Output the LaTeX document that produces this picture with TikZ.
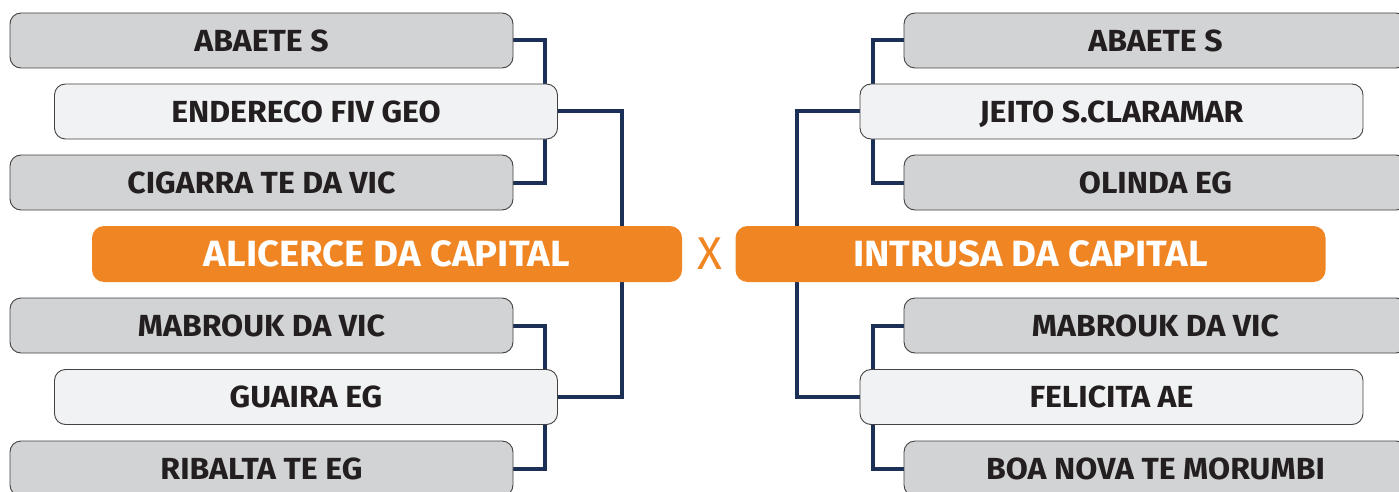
\documentclass[tikz,border=0pt]{standalone}
\usepackage{fontspec}
\setmainfont{Fira Sans}
\newfontfamily\teamfont[FakeStretch=1.05]{Fira Sans}
\usetikzlibrary{backgrounds}
\definecolor{boxgray}{HTML}{D1D3D4}
\definecolor{boxlight}{HTML}{F1F2F3}
\definecolor{orng}{HTML}{F08523}
\definecolor{navy}{HTML}{1C2F57}
\definecolor{txt}{HTML}{231F20}
\tikzset{
  team/.style={draw=txt!85, line width=0.9pt, rounded corners=11pt, minimum width=503pt, minimum height=55pt, inner sep=0pt, text=txt, text depth=0pt, font=\teamfont\fontsize{30.5}{30.5}\selectfont\bfseries},
  dark/.style={team, fill=boxgray},
  light/.style={team, fill=boxlight},
  final/.style={rounded corners=12pt, fill=orng, minimum width=590pt, minimum height=56pt, inner sep=0pt, text=white, text depth=0pt, font=\teamfont\fontsize{36.5}{36.5}\selectfont\bfseries},
  link/.style={draw=navy, line width=4pt}
}
\begin{document}
\begin{tikzpicture}[x=1pt,y=-1pt]
\useasboundingbox (0,0) rectangle (1399,492);
% left
\node[dark]  (a1) at (261.5,40.5) {ABAETE S};
\node[light] (a2) at (306,111.5) {ENDERECO FIV GEO};
\node[dark]  (a3) at (261.5,182.5) {CIGARRA TE DA VIC};
\node[final] (a4) at (387,254) {ALICERCE DA CAPITAL};
\node[dark]  (a5) at (261.5,325.5) {MABROUK DA VIC};
\node[light] (a6) at (306,397) {GUAIRA EG};
\node[dark]  (a7) at (261.5,468.5) {RIBALTA TE EG};
% right
\node[dark]  (b1) at (1155.5,40.5) {ABAETE S};
\node[light] (b2) at (1111.5,111.5) {JEITO S.CLARAMAR};
\node[dark]  (b3) at (1155.5,182.5) {OLINDA EG};
\node[final] (b4) at (1030.5,254) {INTRUSA DA CAPITAL};
\node[dark]  (b5) at (1155.5,325.5) {MABROUK DA VIC};
\node[light] (b6) at (1111.5,397) {FELICITA AE};
\node[dark]  (b7) at (1155.5,468.5) {BOA NOVA TE MORUMBI};
% vs
\node[text=orng, font=\fontsize{46}{46}\selectfont, inner sep=0pt, text depth=0pt] (vs) at (709.5,254) {X};
\begin{scope}[on background layer]
\draw[link] (a1.east) -- ++(32,0) |- (a3.east);
\draw[link] (a2.east) -- ++(64,0) |- (a6.east);
\draw[link] (a5.east) -- ++(32,0) |- (a7.east);
\draw[link] (b1.west) -- ++(-31,0) |- (b3.west);
\draw[link] (b2.west) -- ++(-63,0) |- (b6.west);
\draw[link] (b5.west) -- ++(-31,0) |- (b7.west);
\end{scope}
\end{tikzpicture}
\end{document}
